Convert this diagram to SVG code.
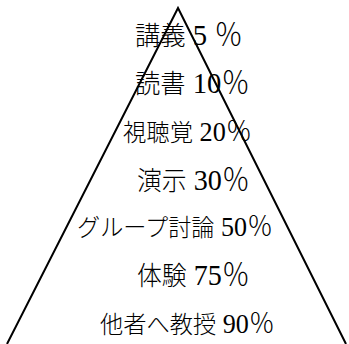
<svg xmlns="http://www.w3.org/2000/svg" width="349" height="344" viewBox="0 0 349 344">
<style>
.t{font-family:"Liberation Serif","Noto Sans CJK JP",serif;fill:#000;font-weight:300}
.big{font-size:26.5px}
.sm{font-size:24px}
.big .n{font-size:30px}
.sm .n{font-size:27px}
.edge{fill:none;stroke:#000;stroke-width:2}
</style>
<rect width="349" height="344" fill="#fff"/>
<g id="labels">
<text class="t big" x="135" y="45" textLength="108" lengthAdjust="spacingAndGlyphs">講義<tspan class="n"> 5 ％</tspan></text>
<text class="t big" x="135" y="93" textLength="115" lengthAdjust="spacingAndGlyphs">読書<tspan class="n"> 10％</tspan></text>
<text class="t sm" x="123" y="141" textLength="129" lengthAdjust="spacingAndGlyphs">視聴覚<tspan class="n"> 20％</tspan></text>
<text class="t big" x="137" y="190" textLength="113" lengthAdjust="spacingAndGlyphs">演示<tspan class="n"> 30％</tspan></text>
<text class="t sm" x="77" y="236" textLength="196" lengthAdjust="spacingAndGlyphs">グループ討論<tspan class="n"> 50％</tspan></text>
<text class="t big" x="137" y="285" textLength="113" lengthAdjust="spacingAndGlyphs">体験<tspan class="n"> 75％</tspan></text>
<text class="t sm" x="100" y="333" textLength="175" lengthAdjust="spacingAndGlyphs">他者へ教授<tspan class="n"> 90％</tspan></text>
</g>
<g id="connectors">
<path class="edge" d="M7,344 L178,8 L346,344"/>
</g>
</svg>
